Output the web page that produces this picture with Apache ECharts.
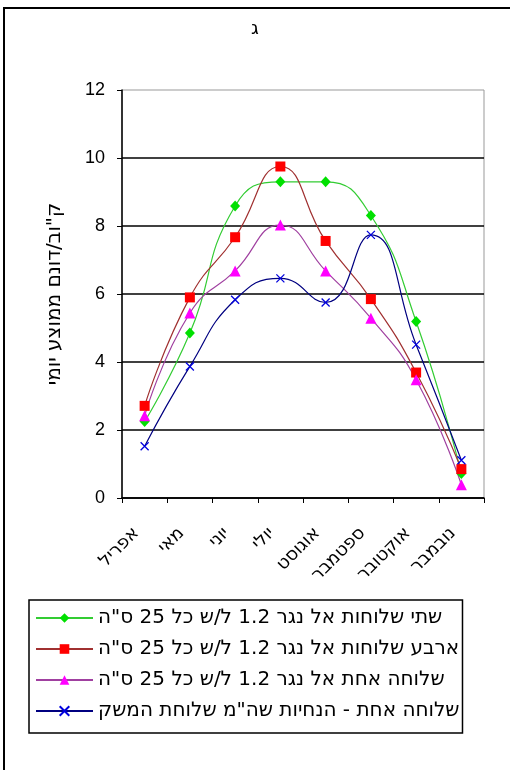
<!DOCTYPE html>
<html>
<head>
<meta charset="utf-8">
<script src="https://cdn.jsdelivr.net/npm/echarts@6/dist/echarts.min.js"></script>
<style>
  html, body { margin: 0; padding: 0; background: #fff; overflow: hidden; }
  #chart { position: absolute; left: 0; top: 0; width: 510px; height: 770px; }
  #frame { position: absolute; left: 3px; top: 7px; width: 600px; height: 900px;
           border: 2px solid #000; box-sizing: border-box; pointer-events: none; }
</style>
</head>
<body>
<div id="chart"></div>
<div id="frame"></div>
<script>
// Months, April to November
const months = ['אפריל', 'מאי', 'יוני', 'יולי', 'אוגוסט', 'ספטמבר', 'אוקטובר', 'נובמבר'];

// Average daily water use (m³ per dunam) for each emitter layout
const twoLaterals  = [2.25, 4.85, 8.59, 9.30, 9.30, 8.31, 5.19, 0.72];
const fourLaterals = [2.71, 5.90, 7.67, 9.75, 7.56, 5.85, 3.69, 0.85];
const oneLateral   = [2.42, 5.44, 6.68, 8.03, 6.68, 5.29, 3.48, 0.39];
const guidelines   = [1.52, 3.87, 5.83, 6.46, 5.75, 7.74, 4.51, 1.11];

const seriesNames = [
  'שתי שלוחות אל נגר 1.2 ל/ש כל 25 ס"ה',
  'ארבע שלוחות אל נגר 1.2 ל/ש כל 25 ס"ה',
  'שלוחה אחת אל נגר 1.2 ל/ש כל 25 ס"ה',
  'שלוחה אחת - הנחיות שה"מ שלוחת המשק'
];

const yTicks = [0, 2, 4, 6, 8, 10, 12];

const FONT = "'Liberation Sans', Arial, sans-serif";
const WIDE = "'DejaVu Sans', 'Liberation Sans', sans-serif";

function lineSeries(name, data, lineColor, markColor, symbol, size, extra) {
  return Object.assign({
    name: name,
    type: 'line',
    data: data,
    smooth: 0.5,
    symbol: symbol,
    symbolSize: size,
    showAllSymbol: true,
    lineStyle: { color: lineColor, width: 1.2 },
    itemStyle: { color: markColor },
    emphasis: { disabled: true }
  }, extra || {});
}

const chart = echarts.init(document.getElementById('chart'), null, { renderer: 'canvas' });

chart.setOption({
  animation: false,
  backgroundColor: '#fff',
  textStyle: { fontFamily: FONT },
  title: {
    text: 'ג',
    left: 'center',
    top: 15,
    textStyle: { fontFamily: WIDE, fontSize: 19, fontWeight: 'normal', color: '#000' }
  },
  grid: {
    left: 122, right: 26, top: 90, bottom: 272,
    show: true, borderColor: '#999', borderWidth: 1, backgroundColor: 'transparent'
  },
  xAxis: {
    type: 'category',
    data: months,
    boundaryGap: true,
    axisLine: { lineStyle: { color: '#000', width: 1.5 } },
    axisTick: { show: true, alignWithLabel: false, length: 5, lineStyle: { color: '#000' } },
    axisLabel: {
      interval: 0, rotate: 45, margin: 24,
      padding: [0, 12, 0, 0],
      fontFamily: WIDE, fontSize: 18, color: '#000'
    },
    splitLine: { show: false }
  },
  yAxis: {
    type: 'value',
    min: yTicks[0],
    max: yTicks[yTicks.length - 1],
    interval: 2,
    name: 'ק"וב/דונם ממוצע יומי',
    nameLocation: 'middle',
    nameGap: 57,
    nameRotate: 90,
    nameTextStyle: { fontFamily: WIDE, fontSize: 20, color: '#000' },
    axisLine: { show: true, lineStyle: { color: '#000', width: 1.5 } },
    axisTick: { show: true, length: 5, lineStyle: { color: '#000' } },
    axisLabel: { margin: 17, fontFamily: FONT, fontSize: 18, color: '#000' },
    splitLine: { show: true, showMaxLine: false, lineStyle: { color: '#000', width: 1.5 } }
  },
  legend: {
    orient: 'vertical',
    left: 29,
    top: 600,
    padding: [7, 3, 11, 6],
    itemWidth: 57,
    itemHeight: 12,
    itemGap: 9,
    borderColor: '#000',
    borderWidth: 1.5,
    backgroundColor: '#fff',
    textStyle: { fontFamily: WIDE, fontSize: 20, color: '#000', lineHeight: 22 },
    data: seriesNames
  },
  series: [
    lineSeries(seriesNames[0], twoLaterals, '#33cc33', '#00e000', 'diamond', [10, 11]),
    lineSeries(seriesNames[1], fourLaterals, '#a03030', '#ff0000', 'rect', 10),
    lineSeries(seriesNames[2], oneLateral, '#a040a0', '#ff00ff', 'triangle', 11),
    lineSeries(seriesNames[3], guidelines, '#000080', '#0000ff',
      'path://M0,0L10,10M10,0L0,10', 8,
      { itemStyle: { color: 'none', borderColor: '#0000dd', borderWidth: 1.3 } })
  ]
});
</script>
</body>
</html>
